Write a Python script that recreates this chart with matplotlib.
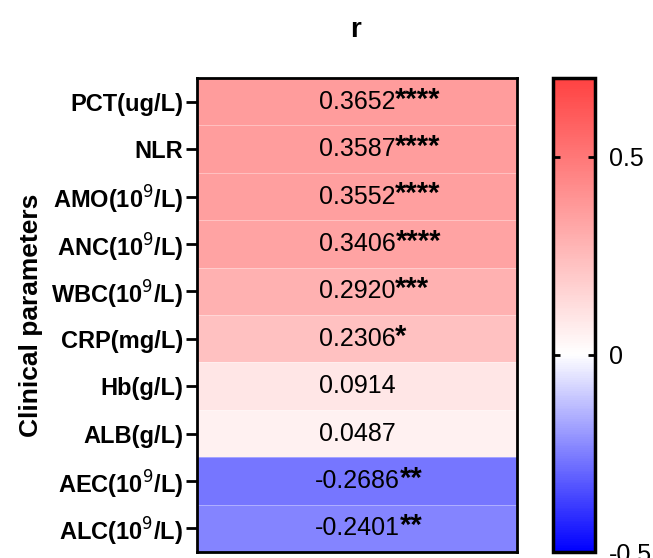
import numpy as np
import matplotlib
matplotlib.use("Agg")
import matplotlib.pyplot as plt
from matplotlib.colors import LinearSegmentedColormap, Normalize

plt.rcParams['font.family'] = ['Liberation Sans', 'DejaVu Sans']
plt.rcParams['axes.unicode_minus'] = False

# --- Date ---
params = ["PCT(ug/L)", "NLR", "AMO(10$^9$/L)", "ANC(10$^9$/L)", "WBC(10$^9$/L)",
          "CRP(mg/L)", "Hb(g/L)", "ALB(g/L)", "AEC(10$^9$/L)", "ALC(10$^9$/L)"]
r_values = [0.3652, 0.3587, 0.3552, 0.3406, 0.2920, 0.2306, 0.0914, 0.0487, -0.2686, -0.2401]
stars = ["****", "****", "****", "****", "***", "*", "", "", "**", "**"]

vmin, vmax = -0.5, 0.7
cmap = LinearSegmentedColormap.from_list(
    "rb", [(0.0, "#0000ff"), ((0 - vmin) / (vmax - vmin), "#ffffff"), (1.0, "#ff4242")])
norm = Normalize(vmin=vmin, vmax=vmax)

fig = plt.figure(figsize=(6.53, 5.58), dpi=100)
ax = fig.add_axes([197/653, 1 - 552/558, 320/653, 474/558])
cax = fig.add_axes([553/653, 1 - 552/558, 42/653, 474/558])

data = np.array(r_values).reshape(-1, 1)
mesh = ax.pcolormesh(data, cmap=cmap, norm=norm, edgecolors=(1, 1, 1, 0.35), linewidth=0.6)
ax.set_ylim(len(params), 0)
ax.set_xlim(0, 1)
ax.set_xticks([])
ax.set_yticks(np.arange(len(params)) + 0.5)
ax.set_yticklabels(params, fontsize=17, fontweight='bold')
ax.tick_params(axis='y', direction='out', length=8, width=2, pad=2)
for s in ax.spines.values():
    s.set_linewidth(2)

for i, (v, st) in enumerate(zip(r_values, stars)):
    t = ax.text(0.5, i + 0.5, f"{v:.4f}", ha='center', va='center', fontsize=18)
    if st:
        ax.annotate(st, xy=(1, 1), xycoords=t, xytext=(0, 3), textcoords='offset points',
                    ha='left', va='top', fontsize=21, fontweight='bold')

ax.set_ylabel("Clinical parameters", fontsize=19, fontweight='bold', labelpad=6)
fig.text(355/653, 1 - 30/558, "r", ha='center', va='center', fontsize=20, fontweight='bold')

cb = fig.colorbar(mesh, cax=cax, ticks=[-0.5, 0, 0.5])
cb.ax.set_yticklabels(["-0.5", "0", "0.5"])
cb.outline.set_linewidth(2.5)
cax.tick_params(direction='in', left=True, right=True, length=5, width=2, labelsize=18, pad=10)

fig.savefig("out.png", dpi=100)
